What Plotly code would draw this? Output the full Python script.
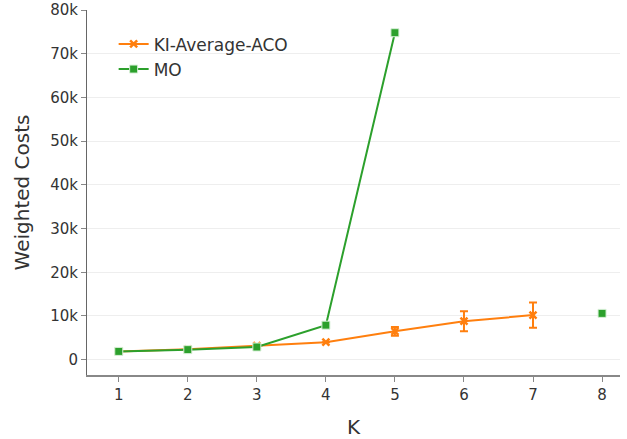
import plotly.graph_objects as go

k = [1, 2, 3, 4, 5, 6, 7, 8]
ki_avg = [1900, 2400, 3200, 4000, 6500, 8800, 10200, None]
ki_err = [0, 0, 0, 0, 1000, 2300, 2900, 0]
mo = [1900, 2300, 2900, 7900, 74800, None, None, 10600]

fig = go.Figure()
fig.add_trace(go.Scatter(
    x=k, y=ki_avg, name="KI-Average-ACO", mode="lines+markers",
    line=dict(color="#ff7f0e", width=2),
    marker=dict(symbol="x-thin", size=7, color="#ff7f0e", line=dict(color="#ff7f0e", width=2.5)),
    error_y=dict(type="data", array=ki_err, visible=True, color="#ff7f0e", thickness=2, width=4),
))
fig.add_trace(go.Scatter(
    x=k, y=mo, name="MO", mode="lines+markers",
    line=dict(color="#2ca02c", width=2),
    marker=dict(symbol="square", size=8, color="#2ca02c", line=dict(color="#d8f0d8", width=1)),
))

font = "Verdana, DejaVu Sans, sans-serif"
fig.update_layout(
    width=627, height=439,
    margin=dict(l=87, r=7, t=10, b=64, autoexpand=False),
    paper_bgcolor="white", plot_bgcolor="white",
    font=dict(family=font, size=15, color="#333"),
    legend=dict(x=0.05, y=0.955, xanchor="left", yanchor="top",
                bgcolor="rgba(0,0,0,0)", font=dict(size=17)),
    xaxis=dict(title=dict(text="K", font=dict(size=20), standoff=17), range=[0.54, 8.26],
               tickvals=k, showgrid=False, showline=True, linecolor="#888", linewidth=2,
               automargin=False,
               ticks="outside", ticklen=5, tickcolor="#888", zeroline=False),
    yaxis=dict(title=dict(text="Weighted Costs", font=dict(size=20), standoff=15), range=[-3500, 80000],
               dtick=10000, showgrid=True, gridcolor="#eee", showline=True, linecolor="#666",
               automargin=False,
               ticks="outside", ticklen=5, tickcolor="#888", zeroline=False),
)
fig.write_html("out.html", config={"displayModeBar": False},
               post_script="document.body.style.margin='0';document.body.style.padding='0';")
